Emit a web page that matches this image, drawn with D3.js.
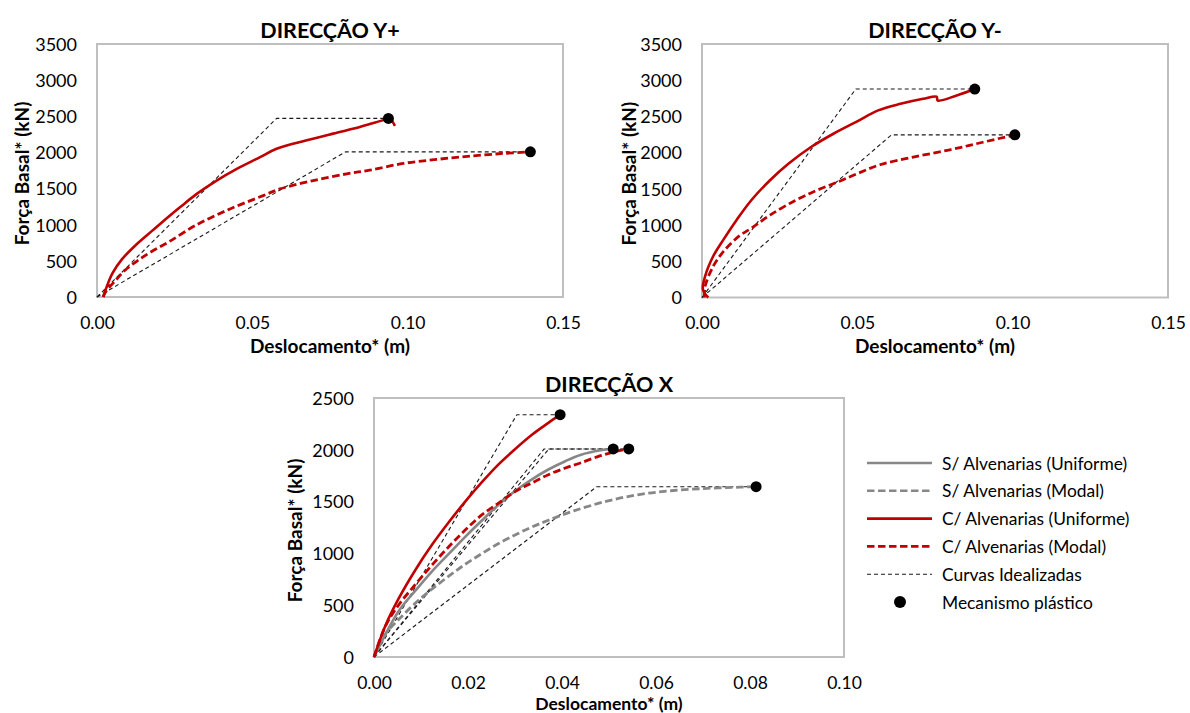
<!DOCTYPE html>
<html>
<head>
<meta charset="utf-8">
<script src="https://cdn.jsdelivr.net/npm/d3@7"></script>
<style>
  html, body { margin: 0; padding: 0; background: #fff; }
  svg { display: block; font-family: Lato, "Open Sans", sans-serif; }
</style>
</head>
<body>
<svg id="chart" width="1190" height="713"></svg>
<script>
// ---- Pushover curves: [displacement (m), base shear (kN)] ----
// Direction Y+
const ypUniformC = [[0.002,0],[0.0031,140],[0.005,330],[0.008,520],[0.0125,720],[0.018,925],[0.0203,1010],
  [0.0267,1240],[0.0321,1426],[0.0385,1611],[0.045,1773],[0.0525,1935],[0.0578,2051],[0.0675,2167],
  [0.076,2260],[0.0846,2351],[0.0878,2392],[0.0921,2447],[0.0938,2471],[0.0948,2445],[0.0959,2368]];
const ypModalC = [[0.002,0],[0.0026,60],[0.0058,222],[0.009,370],[0.0133,510],[0.0176,630],[0.023,760],
  [0.0321,1000],[0.0428,1218],[0.0535,1403],[0.0589,1495],[0.0696,1611],[0.0804,1704],[0.0878,1755],
  [0.0986,1848],[0.1093,1903],[0.12,1949],[0.1308,1986],[0.1395,2008]];
const ypIdealUniformC = [[0,0],[0.0578,2471],[0.0938,2471]];
const ypIdealModalC = [[0,0],[0.080,2008],[0.1395,2008]];
const ypMechanism = [[0.0938,2471],[0.1395,2008]];

// Direction Y-
const ymUniformC = [[0.002,0],[0.0003,110],[0.001,293],[0.0036,569],[0.0069,799],[0.0112,1075],[0.016,1350],
  [0.0219,1619],[0.0279,1849],[0.0351,2078],[0.0423,2261],[0.0495,2422],[0.0567,2583],[0.0639,2674],
  [0.0712,2743],[0.0755,2772],[0.0759,2720],[0.082,2789],[0.0878,2878]];
const ymModalC = [[0.0008,0],[0.001,150],[0.0036,430],[0.007,640],[0.012,850],[0.016,960],[0.022,1140],
  [0.03,1340],[0.037,1480],[0.044,1600],[0.05,1710],[0.0573,1833],[0.068,1939],[0.0798,2039],
  [0.09,2140],[0.1007,2246]];
const ymIdealUniformC = [[0,0],[0.0495,2878],[0.0878,2878]];
const ymIdealModalC = [[0,0],[0.061,2246],[0.1007,2246]];
const ymMechanism = [[0.0878,2878],[0.1007,2246]];

// Direction X
const xUniformC = [[0,0],[0.0024,300],[0.0052,560],[0.0088,840],[0.0123,1080],[0.0159,1300],[0.0194,1500],
  [0.023,1690],[0.0265,1860],[0.0301,2010],[0.0336,2145],[0.0371,2260],[0.0396,2339]];
const xModalC = [[0,0],[0.0024,295],[0.0052,500],[0.0088,700],[0.0123,885],[0.0159,1065],[0.0194,1225],
  [0.023,1374],[0.0265,1486],[0.0301,1599],[0.0336,1680],[0.0371,1760],[0.0407,1824],[0.0439,1873],
  [0.0482,1943],[0.0524,1994],[0.0542,2008]];
const xUniformS = [[0,0],[0.0052,440],[0.0088,640],[0.0123,825],[0.0159,995],[0.0194,1160],[0.023,1320],
  [0.0265,1470],[0.0301,1605],[0.0336,1715],[0.0371,1810],[0.0407,1890],[0.0439,1950],[0.0482,1995],
  [0.0509,2008]];
const xModalS = [[0,0],[0.0024,220],[0.0052,360],[0.0088,520],[0.0123,655],[0.0159,780],[0.0194,895],
  [0.023,1000],[0.0265,1095],[0.0301,1180],[0.0336,1255],[0.0371,1320],[0.0425,1410],[0.0496,1505],
  [0.0567,1570],[0.0637,1607],[0.0709,1628],[0.0779,1639],[0.0813,1644]];
const xIdealUniformC = [[0,0],[0.0304,2339],[0.0396,2339]];
const xIdealUniformS = [[0,0],[0.0362,2008],[0.0509,2008]];
const xIdealModalC = [[0,0],[0.0372,2008],[0.0542,2008]];
const xIdealModalS = [[0,0],[0.0474,1644],[0.0813,1644]];
const xMechanism = [[0.0396,2339],[0.0509,2008],[0.0542,2008],[0.0813,1644]];

// Axis ticks
const ticksTopX = [0, 0.05, 0.10, 0.15];
const ticksTopY = [0, 500, 1000, 1500, 2000, 2500, 3000, 3500];
const ticksBottomX = [0, 0.02, 0.04, 0.06, 0.08, 0.10];
const ticksBottomY = [0, 500, 1000, 1500, 2000, 2500];

// Legend entries
const legendLabels = ["S/ Alvenarias (Uniforme)", "S/ Alvenarias (Modal)", "C/ Alvenarias (Uniforme)",
  "C/ Alvenarias (Modal)", "Curvas Idealizadas", "Mecanismo plástico"];

// ---- Styles ----
const RED = "#c00000", GRAY = "#878787";
const styles = {
  uniformC: { stroke: RED, width: 2.6, dash: null },
  modalC:   { stroke: RED, width: 2.8, dash: "7.5,3.5" },
  uniformS: { stroke: GRAY, width: 2.6, dash: null },
  modalS:   { stroke: GRAY, width: 2.8, dash: "7.5,3.5" },
  ideal:    { stroke: "#1a1a1a", width: 1.1, dash: "4,3" }
};

const svg = d3.select("#chart");

// xLabelBase / xTitleBase are text baselines
const panels = [
  { title: "DIRECÇÃO Y+", left: 97, right: 563, top: 44, bottom: 297,
    xMax: 0.15, yMax: 3500, xTicks: ticksTopX, yTicks: ticksTopY,
    yTitleX: 21, xLabelBase: 329, labelSize: 17.5, xTitleBase: 353, titleSize: 19, titleY: 30,
    series: [
      [ypIdealUniformC, "ideal"], [ypIdealModalC, "ideal"],
      [ypModalC, "modalC"], [ypUniformC, "uniformC"]],
    dots: ypMechanism },
  { title: "DIRECÇÃO Y-", left: 702, right: 1168, top: 44, bottom: 297.5,
    xMax: 0.15, yMax: 3500, xTicks: ticksTopX, yTicks: ticksTopY,
    yTitleX: 628, xLabelBase: 329, labelSize: 17.5, xTitleBase: 353, titleSize: 19, titleY: 30,
    series: [
      [ymIdealUniformC, "ideal"], [ymIdealModalC, "ideal"],
      [ymModalC, "modalC"], [ymUniformC, "uniformC"]],
    dots: ymMechanism },
  { title: "DIRECÇÃO X", left: 374, right: 844, top: 398, bottom: 657,
    xMax: 0.10, yMax: 2500, xTicks: ticksBottomX, yTicks: ticksBottomY,
    yTitleX: 294, xLabelBase: 688.5, labelSize: 17.5, xTitleBase: 709.5, titleSize: 17.5, titleY: 384,
    series: [
      [xIdealUniformC, "ideal"], [xIdealUniformS, "ideal"], [xIdealModalC, "ideal"], [xIdealModalS, "ideal"],
      [xModalS, "modalS"], [xUniformS, "uniformS"], [xModalC, "modalC"], [xUniformC, "uniformC"]],
    dots: xMechanism }
];

panels.forEach(p => {
  const x = d3.scaleLinear().domain([0, p.xMax]).range([p.left, p.right]);
  const y = d3.scaleLinear().domain([0, p.yMax]).range([p.bottom, p.top]);
  const g = svg.append("g");

  // plot-area frame
  g.append("rect")
    .attr("x", p.left).attr("y", p.top)
    .attr("width", p.right - p.left).attr("height", p.bottom - p.top)
    .attr("fill", "none").attr("stroke", "#bfbfbf").attr("stroke-width", 2);

  // axes (labels only, no tick marks)
  const xAxis = d3.axisBottom(x).tickValues(p.xTicks).tickSize(0).tickFormat(d3.format(".2f"));
  const yAxis = d3.axisLeft(y).tickValues(p.yTicks).tickSize(0).tickFormat(d3.format("d"));

  const gx = g.append("g").attr("transform", `translate(0,${p.xLabelBase})`).call(xAxis);
  gx.select(".domain").remove();
  gx.selectAll("text").attr("dy", null).attr("y", 0)
    .attr("font-size", p.labelSize).attr("font-family", "Lato, sans-serif").attr("fill", "#000");

  const gy = g.append("g").attr("transform", `translate(${p.left - 20},0)`).call(yAxis);
  gy.select(".domain").remove();
  gy.selectAll("text").attr("x", 0).attr("dy", "0.35em")
    .attr("font-size", 18).attr("font-family", "Lato, sans-serif").attr("fill", "#000");

  // titles
  g.append("text").attr("x", (p.left + p.right) / 2).attr("y", p.titleY)
    .attr("text-anchor", "middle").attr("dominant-baseline", "central")
    .attr("font-weight", "bold").attr("font-size", 21.5).text(p.title);
  g.append("text").attr("x", (p.left + p.right) / 2).attr("y", p.xTitleBase)
    .attr("text-anchor", "middle")
    .attr("font-weight", "bold").attr("font-size", p.titleSize).text("Deslocamento* (m)");
  g.append("text")
    .attr("transform", `translate(${p.yTitleX},${(p.top + p.bottom) / 2 + 3}) rotate(-90)`)
    .attr("text-anchor", "middle").attr("dominant-baseline", "central")
    .attr("font-weight", "bold").attr("font-size", 19).text("Força Basal* (kN)");

  // curves: smoothed pushover results, straight segments for the bilinear idealisation
  const smooth = d3.line().x(d => x(d[0])).y(d => y(d[1])).curve(d3.curveCatmullRom.alpha(0.5));
  const straight = d3.line().x(d => x(d[0])).y(d => y(d[1]));
  p.series.forEach(([data, key]) => {
    const s = styles[key];
    g.append("path").datum(data).attr("d", key === "ideal" ? straight : smooth)
      .attr("fill", "none").attr("stroke", s.stroke).attr("stroke-width", s.width)
      .attr("stroke-dasharray", s.dash).attr("stroke-linejoin", "round");
  });

  // plastic mechanism markers
  g.selectAll("circle.mech").data(p.dots).join("circle").attr("class", "mech")
    .attr("cx", d => x(d[0])).attr("cy", d => y(d[1])).attr("r", 5.5).attr("fill", "#000");
});

// ---- Legend ----
const legendKeys = ["uniformS", "modalS", "uniformC", "modalC", "ideal", "dot"];
const legendRowY = d3.scalePoint().domain(d3.range(legendLabels.length)).range([463, 602]);
const lg = svg.append("g");
legendLabels.forEach((label, i) => {
  const yy = legendRowY(i);
  const key = legendKeys[i];
  if (key === "dot") {
    lg.append("circle").attr("cx", 900).attr("cy", yy).attr("r", 6).attr("fill", "#000");
  } else {
    const s = styles[key];
    lg.append("line").attr("x1", 867).attr("x2", 932).attr("y1", yy).attr("y2", yy)
      .attr("stroke", s.stroke).attr("stroke-width", key === "ideal" ? 1.1 : 2.6)
      .attr("stroke-dasharray", s.dash);
  }
  lg.append("text").attr("x", 942).attr("y", yy).attr("dominant-baseline", "central")
    .attr("font-size", 17.4).attr("fill", "#000").text(label);
});
</script>
</body>
</html>
